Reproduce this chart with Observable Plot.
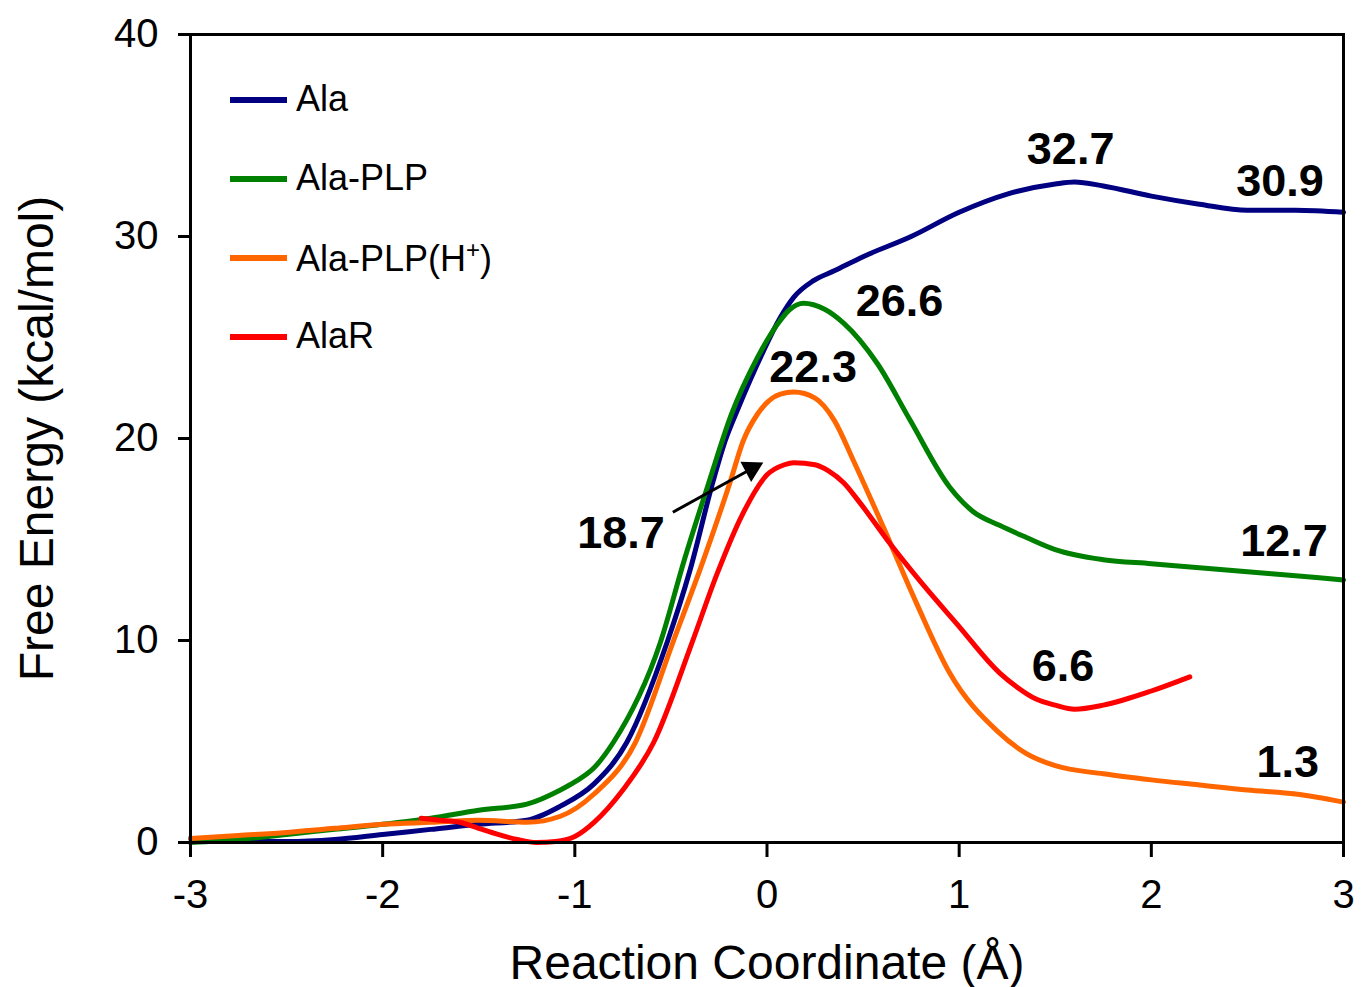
<!DOCTYPE html>
<html><head><meta charset="utf-8">
<script src="https://cdn.jsdelivr.net/npm/d3@7"></script>
<script src="https://cdn.jsdelivr.net/npm/@observablehq/plot@0.6"></script>
<style>
body{margin:0;background:#fff;font-family:"Liberation Sans",Arial,sans-serif;}
#wrap{position:relative;width:1361px;height:987px;}
#legend{position:absolute;left:230px;top:72px;}
.row{position:relative;height:79px;}
.sw{position:absolute;left:0;top:25px;width:57px;height:6px;}
.lab{position:absolute;left:66px;top:6px;font-size:36px;white-space:nowrap;color:#000;}
</style></head>
<body><div id="wrap"><div id="chart"></div><div id="legend"></div></div>
<script>
const seriesNames = ["Ala","Ala-PLP","Ala-PLP(H+)","AlaR"];
const seriesColors = ["#000080","#008000","#FF6600","#FF0000"];

const alaX = [-3,-2.75,-2.5,-2.25,-2,-1.75,-1.5,-1.25,-1.075,-0.9,-0.73,-0.52,-0.4,-0.28,-0.217,-0.15,-0.02,0.07,0.14,0.24,0.35,0.5,0.75,1,1.25,1.5,1.6,1.75,2,2.25,2.5,2.75,3];
const alaY = [0.2,0.05,0.05,0.15,0.4,0.65,0.9,1.1,1.8,2.9,4.95,9.9,13.5,17.9,19.9,21.5,24.3,26.0,27.0,27.8,28.3,29.0,30.0,31.2,32.1,32.6,32.7,32.5,32.0,31.6,31.3,31.3,31.2];

const plpX = [-3,-2.75,-2.5,-2.25,-2,-1.75,-1.5,-1.25,-1.075,-1.0,-0.9,-0.8,-0.555,-0.43,-0.3,-0.185,-0.05,0.05,0.12,0.19,0.3,0.4,0.575,0.745,0.95,1.07,1.21,1.35,1.5,1.75,2,2.25,2.5,2.75,3];
const plpY = [0,0.15,0.4,0.65,0.9,1.2,1.6,1.9,2.6,3.0,3.7,4.95,9.9,14.0,17.9,21.2,24.0,25.6,26.4,26.7,26.4,25.7,23.7,20.9,17.6,16.4,15.7,15.1,14.5,14.0,13.8,13.6,13.4,13.2,13.0];

const phX = [-3,-2.75,-2.5,-2.25,-2,-1.75,-1.5,-1.25,-1.075,-0.9,-0.685,-0.49,-0.33,-0.19,-0.123,-0.05,0.07,0.14,0.25,0.35,0.45,0.606,0.78,0.95,1.2,1.35,1.5,1.75,2,2.25,2.5,2.75,3];
const phY = [0.2,0.35,0.5,0.7,0.9,1.0,1.1,1.0,1.3,2.4,4.95,9.9,14.0,17.9,19.9,21.2,22.2,22.3,22.0,20.9,18.9,15.6,11.8,8.4,5.5,4.4,3.8,3.4,3.1,2.85,2.6,2.4,2.0];

const alarX = [-1.8,-1.7,-1.6,-1.5,-1.4,-1.3,-1.2,-1.1,-1.0,-0.9,-0.75,-0.59,-0.39,-0.26,-0.13,0,0.09,0.14,0.25,0.32,0.4,0.485,0.64,0.8,0.99,1.21,1.3,1.4,1.5,1.6,1.75,2,2.2];
const alarY = [1.2,1.1,1.0,0.7,0.4,0.15,0.0,0.05,0.3,1.0,2.6,4.95,9.9,13.3,16.2,18.2,18.7,18.8,18.7,18.4,17.8,16.8,14.8,12.9,10.8,8.4,7.7,7.1,6.8,6.6,6.8,7.5,8.2];

const labelText = ["32.7","30.9","26.6","22.3","18.7","12.7","6.6","1.3"];
const labelX = [1.58,2.67,0.69,0.24,-0.76,2.69,1.54,2.71];
const labelY = [34.3,32.7,26.8,23.5,15.3,14.9,8.7,3.95];

const arrowFrom = [-0.49,16.35];
const arrowHead = [-0.08,18.5];
const arrowAngle = 62;

const xTicks = [-3,-2,-1,0,1,2,3];
const yTicks = [0,10,20,30,40];

const allX=[alaX,plpX,phX,alarX], allY=[alaY,plpY,phY,alarY];
const rows=[];
allX.forEach((xs,i)=>xs.forEach((x,j)=>rows.push({s:seriesNames[i],x,y:allY[i][j]})));
const labels = labelText.map((t,i)=>({t,x:labelX[i],y:labelY[i]}));

const chart = Plot.plot({
  width:1361, height:987,
  marginLeft:190, marginRight:18, marginTop:34, marginBottom:145,
  style:{fontFamily:"'Liberation Sans',Arial,sans-serif",background:"#fff",color:"#000"},
  x:{domain:[-3,3]},
  y:{domain:[0,40]},
  color:{domain:seriesNames, range:seriesColors},
  marks:[
    Plot.line(rows,{x:"x",y:"y",z:"s",stroke:"s",strokeWidth:5,curve:"monotone-x"}),
    Plot.frame({stroke:"#000",strokeWidth:3}),
    Plot.axisX({ticks:xTicks,tickSize:15,tickPadding:22,tickFormat:d=>String(d),fontSize:40,strokeWidth:3,label:"Reaction Coordinate (Å)",labelAnchor:"center",labelArrow:false,labelOffset:136}),
    Plot.axisY({ticks:yTicks,tickSize:12,tickPadding:20,fontSize:40,strokeWidth:3,label:"Free Energy (kcal/mol)",labelAnchor:"center",labelArrow:false,labelOffset:172}),
    Plot.text(labels,{x:"x",y:"y",text:"t",fontSize:45,fontWeight:"bold",fill:"#000"}),
    Plot.link([{x1:arrowFrom[0],y1:arrowFrom[1],x2:arrowHead[0],y2:arrowHead[1]}],{x1:"x1",y1:"y1",x2:"x2",y2:"y2",stroke:"#000",strokeWidth:3}),
    Plot.dot([{x:arrowHead[0],y:arrowHead[1]}],{x:"x",y:"y",symbol:"triangle",r:8.5,fill:"#000",stroke:"none",rotate:arrowAngle})
  ]
});
document.getElementById("chart").appendChild(chart);
chart.querySelectorAll("g[aria-label='x-axis label'] text, g[aria-label='y-axis label'] text").forEach(t=>{t.setAttribute("font-size","48");});

const leg=document.getElementById("legend");
seriesNames.forEach((n,i)=>{
  const r=document.createElement("div");r.className="row";
  const sw=document.createElement("div");sw.className="sw";sw.style.background=seriesColors[i];
  const lb=document.createElement("div");lb.className="lab";
  lb.innerHTML = n==="Ala-PLP(H+)" ? "Ala-PLP(H<sup style='font-size:24px'>+</sup>)" : n;
  r.appendChild(sw);r.appendChild(lb);leg.appendChild(r);
});
</script></body></html>
